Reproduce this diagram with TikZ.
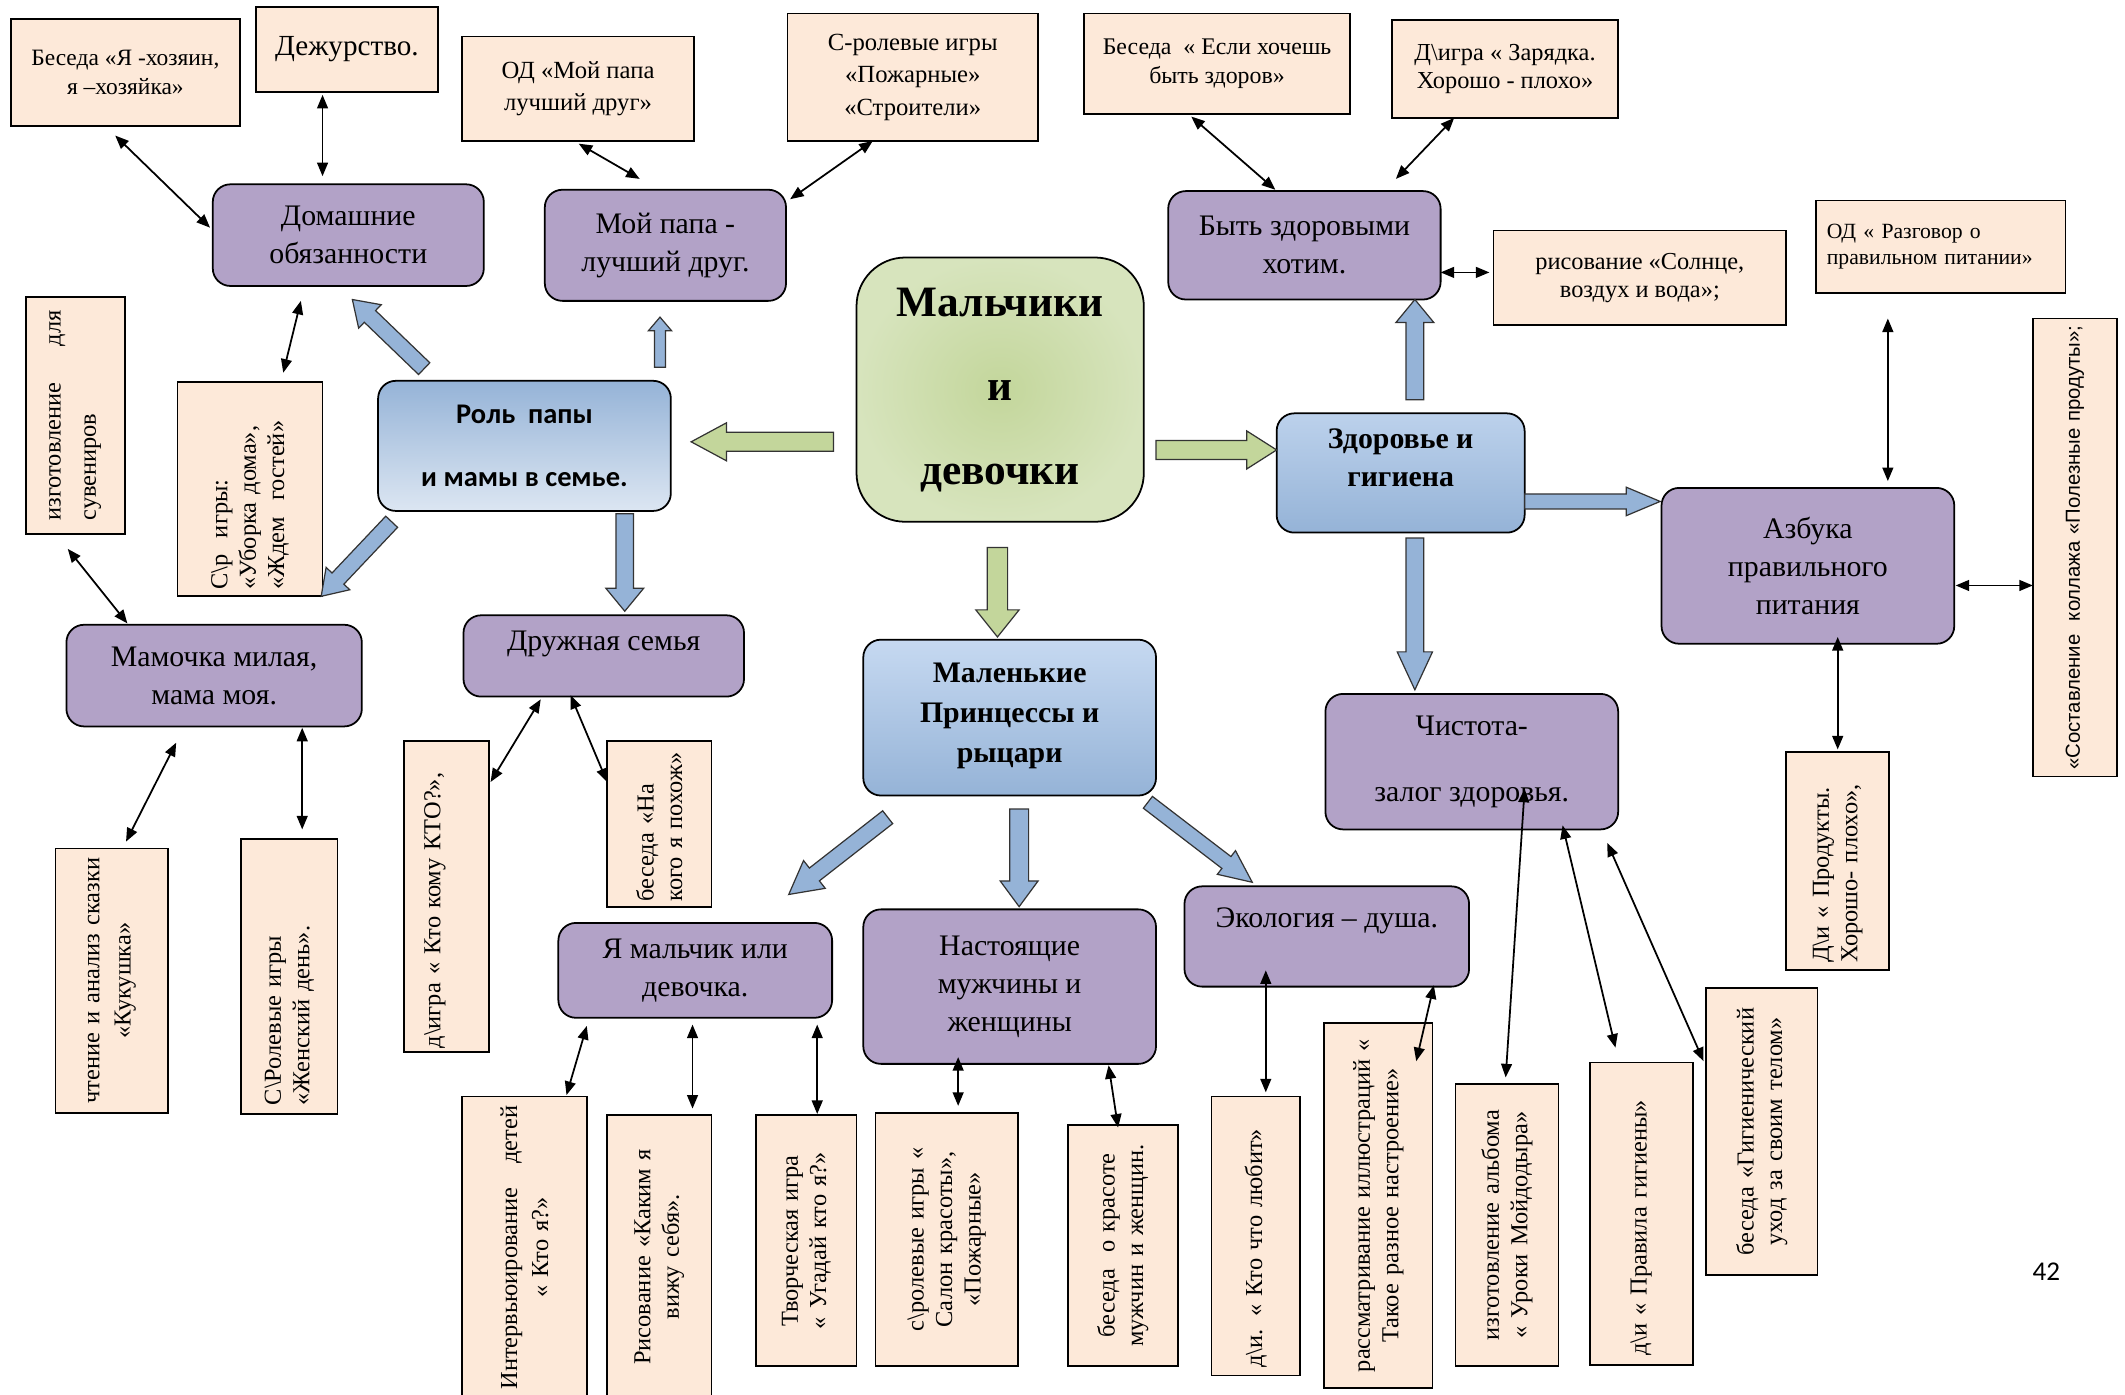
\documentclass[tikz,border=0pt]{standalone}
\usepackage{fontspec}
\setmainfont{Liberation Serif}
\newfontfamily\calfont{Carlito}
\newfontfamily\arlfont{Liberation Sans}
\usetikzlibrary{arrows.meta,calc}
\definecolor{peach}{HTML}{FDE9D9}
\definecolor{purp}{HTML}{B2A2C7}
\definecolor{bluea}{HTML}{95B3D7}
\definecolor{blueb}{HTML}{DCE6F2}
\definecolor{bluec}{HTML}{C6D9F1}
\definecolor{greena}{HTML}{C3D69B}
\definecolor{greenb}{HTML}{D7E4BD}
\newcommand\fs[2]{\fontsize{#1}{#2}\selectfont}
\newcommand\blockarr[6]{%
  \coordinate (bah) at ($(#3)!#6!(#2)$);
  \draw[#1] ($(#2)!#4!90:(#3)$) -- ($(bah)!#4!90:(#3)$) -- ($(bah)!#5!90:(#3)$) -- (#3)
    -- ($(bah)!#5!-90:(#3)$) -- ($(bah)!#4!-90:(#3)$) -- ($(#2)!#4!-90:(#3)$) -- cycle;}
\tikzset{
  pch/.style={draw=black, line width=1.3pt, fill=peach, align=center, inner sep=0pt},
  rot/.style={pch, rotate=90},
  prp/.style={draw=black, line width=1.3pt, fill=purp, rounded corners=13pt, align=center, inner sep=0pt, font=\fs{22}{28}},
  blu/.style={draw=black, line width=1.3pt, rounded corners=13pt, align=center, inner sep=0pt},
  garr/.style={draw=black!80, line width=0.9pt, fill=greena, line join=miter},
  barr/.style={draw=black!80, line width=0.9pt, fill=bluea, line join=miter},
  dbl/.style={{Triangle[length=10pt,width=8pt]}-{Triangle[length=10pt,width=8pt]}, line width=1.3pt},
}
\begin{document}
\begin{tikzpicture}[x=1pt,y=-1pt]
\useasboundingbox[fill=white] (0,0) rectangle (1568,1029);

% ---- top peach boxes
\node[pch, minimum width=169pt, minimum height=79pt, font=\fs{17.3}{21}] (b1) at (92.5,53.5) {Беседа «Я -хозяин,\\ я –хозяйка»};
\node[pch, minimum width=134pt, minimum height=63pt, font=\fs{21.5}{24}] (b2) at (256,36.5) {Дежурство.};
\node[pch, minimum width=171pt, minimum height=77pt, font=\fs{18.2}{24}] (b3) at (426.5,65.5) {ОД «Мой папа\\ лучший друг»};
\node[pch, minimum width=185pt, minimum height=94pt, font=\fs{18.2}{24}] (b4) at (673.5,57) {С-ролевые игры\\ «Пожарные»\\ «Строители»};
\node[pch, minimum width=196pt, minimum height=74pt, font=\fs{17.6}{21}] (b5) at (898,47) {Беседа\ \ « Если хочешь\\ быть здоров»};
\node[pch, minimum width=167pt, minimum height=72pt, font=\fs{18}{21}] (b6) at (1110.5,51) {Д\textbackslash игра « Зарядка.\\ Хорошо - плохо»};
\node[pch, minimum width=216pt, minimum height=70pt, font=\fs{18}{21}] (b7) at (1210,205) {рисование «Солнце,\\ воздух и вода»;};
\node[pch, minimum width=184pt, minimum height=68pt, text width=168pt, align=left, font=\fs{16}{19}] (b8) at (1432,182) {ОД « Разговор о\\ правильном питании»};

% ---- purple boxes
\node[prp, minimum width=200pt, minimum height=75pt] (p1) at (257,173.5) {Домашние\\ обязанности};
\node[prp, minimum width=178pt, minimum height=82pt] (p2) at (491,181) {Мой папа -\\ лучший друг.};
\node[prp, minimum width=201pt, minimum height=80pt] (p3) at (962.5,181) {Быть здоровыми\\ хотим.};
\node[prp, minimum width=216pt, minimum height=115pt] (p4) at (1334,417.5) {Азбука\\ правильного\\ питания};
\node[prp, minimum width=218pt, minimum height=75pt] (p5) at (158,498.5) {Мамочка милая,\\ мама моя.};
\node[prp, minimum width=207pt, minimum height=60pt] (p6) at (445.5,484) {Дружная семья\\[-6pt]\mbox{}};
\node[prp, minimum width=216pt, minimum height=100pt] (p7) at (1086,562) {Чистота-\\[21pt] залог здоровья.};
\node[prp, minimum width=202pt, minimum height=70pt] (p8) at (513,716) {Я мальчик или\\ девочка.};
\node[prp, minimum width=216pt, minimum height=114pt] (p9) at (745,728) {Настоящие\\ мужчины и\\ женщины};
\node[prp, minimum width=210pt, minimum height=74pt] (p10) at (979,691) {Экология – душа.\\ \mbox{}};

% ---- blue boxes
\node[blu, top color=bluea, bottom color=blueb, minimum width=216pt, minimum height=96pt, font=\calfont\bfseries\fs{21}{24}] (r1) at (387,329) {Роль\ \ папы\\[23pt] и мамы в семье.};
\node[blu, top color=bluec!80!bluea, bottom color=bluea, minimum width=183pt, minimum height=88pt, font=\bfseries\fs{22}{28}] (r2) at (1033.5,349) {Здоровье и\\ гигиена\\[-6pt]\mbox{}};
\node[blu, top color=bluec, bottom color=bluea, minimum width=216pt, minimum height=115pt, font=\bfseries\fs{22}{29.5}] (r3) at (745,529.5) {Маленькие\\ Принцессы и\\ рыцари\\[-22pt]\mbox{}};

% ---- centre
\node[draw=black, line width=1.3pt, rounded corners=36pt, inner color=greena, outer color=greenb, minimum width=212pt, minimum height=195pt, align=center, inner sep=0pt, font=\bfseries\fs{32}{62}] (c) at (738,287.5) {Мальчики\\ и\\ девочки};

% ---- rotated peach boxes
\node[rot, minimum width=175pt, minimum height=73pt, text width=155pt, align=left, font=\fs{18}{26}] (q1) at (55.5,306.5) {изготовление\hfill для\\ сувениров};
\node[rot, minimum width=158pt, minimum height=107pt, text width=148pt, align=left, font=\fs{18}{21}] (q2) at (184.5,361) {С\textbackslash р\ \ игры:\\ «Уборка дома»,\\ «Ждем\ \ гостей»};
\node[rot, minimum width=229pt, minimum height=63pt, text width=224pt, align=left, font=\fs{18}{21}] (q3) at (329.5,661.5) {д\textbackslash игра « Кто кому КТО?»,\\ \mbox{}};
\node[rot, minimum width=122pt, minimum height=77pt, text width=114pt, align=left, font=\fs{18}{21}] (q4) at (486.5,608) {беседа «На\\ кого я похож»};
\node[rot, minimum width=195pt, minimum height=83pt, text width=188pt, font=\fs{18}{23}] (q5) at (82.5,723.5) {чтение и анализ сказки\\ «Кукушка»};
\node[rot, minimum width=203pt, minimum height=71pt, text width=190pt, align=left, font=\fs{18}{21}] (q6) at (213.5,720.5) {С\textbackslash Ролевые игры\\ «Женский день».};
\node[rot, minimum width=161pt, minimum height=76pt, text width=150pt, align=left, font=\fs{18}{21}] (q7) at (1356,635.5) {Д\textbackslash и « Продукты.\\ Хорошо- плохо»,};
\node[rot, minimum width=223pt, minimum height=92pt, text width=215pt, font=\fs{18}{23}] (q8) at (387,920.5) {Интервьюирование\ \ \ детей\\ « Кто я?»};
\node[rot, minimum width=209pt, minimum height=77pt, text width=200pt, font=\fs{18}{21}] (q9) at (486.5,927.5) {Рисование «Каким я\\ вижу себя».};
\node[rot, minimum width=185pt, minimum height=74pt, text width=180pt, font=\fs{18}{21}] (q10) at (595,915.5) {Творческая игра\\ « Угадай кто я?»};
\node[rot, minimum width=187pt, minimum height=105pt, text width=182pt, font=\fs{18}{21}] (q11) at (698.5,914.5) {с\textbackslash ролевые игры «\\ Салон красоты»,\\ «Пожарные»};
\node[rot, minimum width=178pt, minimum height=81pt, text width=172pt, font=\fs{18}{21}] (q12) at (828.5,919) {беседа\ \ о красоте\\ мужчин и женщин.};
\node[rot, minimum width=206pt, minimum height=65pt, text width=194pt, align=left, font=\fs{18}{21}] (q13) at (926.5,912) {д\textbackslash и. « Кто что любит»};
\node[rot, minimum width=269pt, minimum height=80pt, text width=262pt, font=\fs{18}{21}] (q14) at (1017,889.5) {рассматривание иллюстраций «\\ Такое разное настроение»};
\node[rot, minimum width=208pt, minimum height=76pt, text width=202pt, font=\fs{18}{21}] (q15) at (1112,904) {изготовление альбома\\ « Уроки Мойдодыра»};
\node[rot, minimum width=223pt, minimum height=76pt, text width=210pt, align=left, font=\fs{18}{21}] (q16) at (1211,895.5) {д\textbackslash и « Правила гигиены»};
\node[rot, minimum width=212pt, minimum height=82pt, text width=206pt, font=\fs{18}{21}] (q17) at (1300,835) {беседа «Гигиенический\\ уход за своим телом»};
\node[rot, minimum width=338pt, minimum height=62pt, text width=328pt, align=left, font=\arlfont\fs{15}{19}] (q18) at (1531,404) {«Составление\ \ коллажа «Полезные продуты»;};

\node[font=\calfont\fs{20}{22}, inner sep=0pt] (pg) at (1510,938) {42};

% ---- block arrows
\coordinate (g1t) at (615,326); \coordinate (g1h) at (510,326);
\coordinate (g2t) at (853,332); \coordinate (g2h) at (942,332);
\coordinate (g3t) at (736,404); \coordinate (g3h) at (736,470);
\blockarr{garr}{g1t}{g1h}{7pt}{14pt}{26pt}
\blockarr{garr}{g2t}{g2h}{7pt}{14pt}{22pt}
\blockarr{garr}{g3t}{g3h}{7.5pt}{16pt}{20pt}
\coordinate (a1t) at (313,272); \coordinate (a1h) at (260,221);
\coordinate (a2t) at (487,271); \coordinate (a2h) at (487,234);
\coordinate (a3t) at (289,385); \coordinate (a3h) at (237,440);
\coordinate (a4t) at (461,379); \coordinate (a4h) at (461,451);
\coordinate (a5t) at (1044,295); \coordinate (a5h) at (1044,221);
\coordinate (a6t) at (1125,370); \coordinate (a6h) at (1225,370);
\coordinate (a7t) at (1044,397); \coordinate (a7h) at (1044,509);
\coordinate (a8t) at (847,592); \coordinate (a8h) at (924,651);
\coordinate (a9t) at (752,597); \coordinate (a9h) at (752,669);
\coordinate (a10t) at (655,603); \coordinate (a10h) at (582,660);
\blockarr{barr}{a1t}{a1h}{6pt}{12pt}{18pt}
\blockarr{barr}{a2t}{a2h}{4pt}{8.5pt}{10pt}
\blockarr{barr}{a3t}{a3h}{6pt}{12pt}{18pt}
\blockarr{barr}{a4t}{a4h}{6.5pt}{14pt}{17pt}
\blockarr{barr}{a5t}{a5h}{6.5pt}{14pt}{17pt}
\blockarr{barr}{a6t}{a6h}{5.5pt}{10.5pt}{25pt}
\blockarr{barr}{a7t}{a7h}{6.5pt}{13pt}{28pt}
\blockarr{barr}{a8t}{a8h}{5.5pt}{11pt}{24pt}
\blockarr{barr}{a9t}{a9h}{7pt}{14pt}{19pt}
\blockarr{barr}{a10t}{a10h}{6pt}{13pt}{24pt}

% ---- thin double arrows
\coordinate (d1a) at (85,100);   \coordinate (d1b) at (155,168);
\coordinate (d2a) at (238,70);   \coordinate (d2b) at (238,130);
\coordinate (d3a) at (427,106);  \coordinate (d3b) at (472,132);
\coordinate (d4a) at (644,104);  \coordinate (d4b) at (583,147);
\coordinate (d5a) at (879,86);   \coordinate (d5b) at (941,140);
\coordinate (d6a) at (1073,87);  \coordinate (d6b) at (1030,132);
\coordinate (d7a) at (1063,201); \coordinate (d7b) at (1099,201);
\coordinate (d8a) at (1393,235); \coordinate (d8b) at (1393,355);
\coordinate (d9a) at (1443,432); \coordinate (d9b) at (1500,432);
\coordinate (d10a) at (1356,470); \coordinate (d10b) at (1356,553);
\coordinate (d11a) at (222,222); \coordinate (d11b) at (209,275);
\coordinate (d12a) at (50,405);  \coordinate (d12b) at (94,460);
\coordinate (d13a) at (130,548); \coordinate (d13b) at (93,621);
\coordinate (d14a) at (223,537); \coordinate (d14b) at (223,612);
\coordinate (d15a) at (399,516); \coordinate (d15b) at (362,577);
\coordinate (d16a) at (421,513); \coordinate (d16b) at (448,577);
\coordinate (d17a) at (433,757); \coordinate (d17b) at (418,808);
\coordinate (d18a) at (511,756); \coordinate (d18b) at (511,818);
\coordinate (d19a) at (603,756); \coordinate (d19b) at (603,822);
\coordinate (d20a) at (707,780); \coordinate (d20b) at (707,816);
\coordinate (d21a) at (818,786); \coordinate (d21b) at (825,832);
\coordinate (d22a) at (934,716); \coordinate (d22b) at (934,806);
\coordinate (d23a) at (1058,727); \coordinate (d23b) at (1045,783);
\coordinate (d24a) at (1125,582); \coordinate (d24b) at (1111,795);
\coordinate (d25a) at (1153,609); \coordinate (d25b) at (1192,773);
\coordinate (d26a) at (1186,622); \coordinate (d26b) at (1257,783);
\foreach \i in {1,...,26} {\draw[dbl] (d\i a) -- (d\i b);}
\end{tikzpicture}
\end{document}
